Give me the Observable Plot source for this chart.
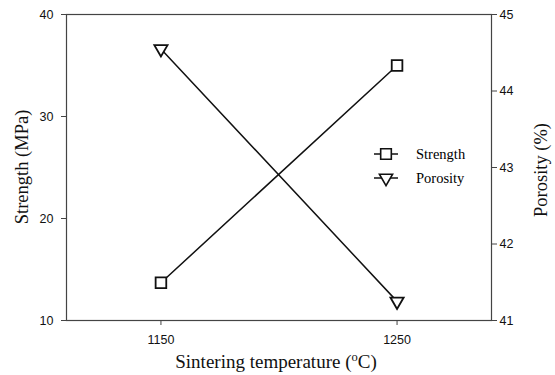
<!DOCTYPE html>
<html>
<head>
<meta charset="utf-8">
<script src="https://cdn.jsdelivr.net/npm/d3@7"></script>
<script src="https://cdn.jsdelivr.net/npm/@observablehq/plot@0.6"></script>
<style>
  html, body { margin: 0; padding: 0; background: white; }
  #wrap { position: relative; width: 555px; height: 375px; }
  #legend { position: absolute; left: 373px; top: 142px; font-family: "Liberation Serif", "Times New Roman", serif; font-size: 14.5px; color: black; }
  #legend .row { display: flex; align-items: center; height: 24px; }
  #legend svg { margin-right: 17px; }
</style>
</head>
<body>
<div id="wrap"></div>
<script>
const temps = [1150, 1250];
const strength = [13.7, 35.0];
const porosity = [44.55, 41.25];
const xTicks = [1150, 1250];
const strengthTicks = [10, 20, 30, 40];
const porosityTicks = [41, 42, 43, 44, 45];
const seriesNames = ["Strength", "Porosity"];

// map porosity (41..45) onto strength scale (10..40)
const toS = p => 10 + (p - 41) * 7.5;
const fromS = s => 41 + (s - 10) / 7.5;

const strengthData = temps.map((t, i) => ({t, v: strength[i]}));
const porosityData = temps.map((t, i) => ({t, v: toS(porosity[i])}));

const ink = "#111";
const chart = Plot.plot({
  width: 555,
  height: 375,
  marginLeft: 66,
  marginRight: 64,
  marginTop: 14,
  marginBottom: 55,
  style: {fontFamily: "Liberation Sans, Arial, sans-serif", fontSize: "12.5px", color: ink, background: "white"},
  x: {domain: [1110, 1290]},
  y: {domain: [10, 40]},
  marks: [
    Plot.frame({stroke: "#444", strokeWidth: 1.2}),
    Plot.axisX({ticks: xTicks, tickSize: 5, tickPadding: 10, tickFormat: d => String(d), label: null, stroke: "#444"}),
    Plot.axisY({ticks: strengthTicks, tickSize: 5, tickPadding: 8, label: null, stroke: "#444"}),
    Plot.axisY({anchor: "right", ticks: porosityTicks.map(toS), tickFormat: d => String(Math.round(fromS(d))), tickSize: 5, tickPadding: 3, label: null, stroke: "#444"}),
    Plot.line(strengthData, {x: "t", y: "v", stroke: ink, strokeWidth: 1.5}),
    Plot.line(porosityData, {x: "t", y: "v", stroke: ink, strokeWidth: 1.5}),
    Plot.dot(strengthData, {x: "t", y: "v", symbol: "square", r: 6.0, fill: "white", stroke: ink, strokeWidth: 1.8}),
    Plot.dot(porosityData, {x: "t", y: "v", symbol: "triangle", rotate: 180, r: 4.9, fill: "white", stroke: ink, strokeWidth: 1.8})
  ]
});

const svg = d3.select(chart);
const serif = "Liberation Serif, Times New Roman, serif";
svg.append("text")
  .attr("transform", "translate(28,167) rotate(-90)")
  .attr("text-anchor", "middle")
  .attr("font-family", serif).attr("font-size", 18.5).attr("fill", ink)
  .text("Strength (MPa)");
svg.append("text")
  .attr("transform", "translate(547,170) rotate(-90)")
  .attr("text-anchor", "middle")
  .attr("font-family", serif).attr("font-size", 18.5).attr("fill", ink)
  .text("Porosity (%)");
const xt = svg.append("text")
  .attr("x", 276).attr("y", 368)
  .attr("text-anchor", "middle")
  .attr("font-family", serif).attr("font-size", 19).attr("fill", ink);
xt.append("tspan").text("Sintering temperature (");
xt.append("tspan").attr("font-size", 12.5).attr("dy", -7).text("o");
xt.append("tspan").attr("dy", 7).text("C)");

const wrap = document.getElementById("wrap");
wrap.appendChild(chart);

// legend
const legend = document.createElement("div");
legend.id = "legend";
const symbols = [d3.symbolSquare, d3.symbolTriangle];
const sizes = [113, 75];
seriesNames.forEach((name, i) => {
  const row = document.createElement("div");
  row.className = "row";
  const s = d3.create("svg").attr("width", 26).attr("height", 20);
  s.append("line").attr("x1", 1).attr("x2", 25).attr("y1", 10).attr("y2", 10).attr("stroke", ink).attr("stroke-width", 1.5);
  s.append("path").attr("d", d3.symbol(symbols[i], sizes[i])())
    .attr("transform", i === 1 ? "translate(13,10) rotate(180)" : "translate(13,10)")
    .attr("fill", "white").attr("stroke", ink).attr("stroke-width", 1.6);
  row.appendChild(s.node());
  const label = document.createElement("span");
  label.textContent = name;
  row.appendChild(label);
  legend.appendChild(row);
});
wrap.appendChild(legend);
</script>
</body>
</html>
